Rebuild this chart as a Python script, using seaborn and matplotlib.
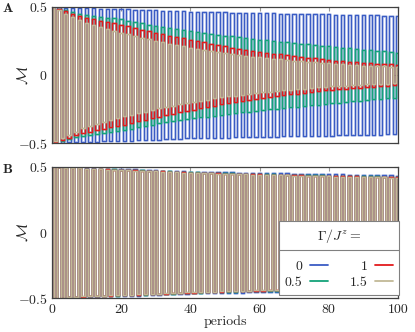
import numpy as np
import pandas as pd
import seaborn as sns
import matplotlib
matplotlib.use('Agg')
import matplotlib.pyplot as plt
import matplotlib.patheffects as pe
from matplotlib.lines import Line2D

# envelope of |M| at these periods
env_periods = [0, 10, 20, 30, 40, 50, 60, 70, 80, 90, 100]
gammas = ['0', '0.5', '1', '1.5']
colors = ['#3a5cc4', '#14a37a', '#e31a1c', '#c2b996']

# panel A
amp_A_0 = [0.5, 0.49, 0.485, 0.475, 0.465, 0.46, 0.455, 0.45, 0.445, 0.44, 0.435]
amp_A_05 = [0.5, 0.44, 0.41, 0.36, 0.32, 0.29, 0.26, 0.235, 0.21, 0.185, 0.165]
amp_A_1 = [0.5, 0.42, 0.37, 0.31, 0.26, 0.21, 0.17, 0.14, 0.11, 0.09, 0.075]
amp_A_15 = [0.5, 0.38, 0.31, 0.25, 0.2, 0.16, 0.13, 0.105, 0.085, 0.07, 0.06]

# panel B
amp_B_0 = [0.5, 0.49, 0.485, 0.475, 0.465, 0.46, 0.455, 0.45, 0.445, 0.44, 0.435]
amp_B_05 = [0.5, 0.488, 0.48, 0.47, 0.46, 0.452, 0.446, 0.44, 0.435, 0.43, 0.425]
amp_B_1 = [0.5, 0.487, 0.478, 0.468, 0.458, 0.45, 0.443, 0.437, 0.432, 0.427, 0.422]
amp_B_15 = [0.5, 0.486, 0.476, 0.466, 0.456, 0.448, 0.44, 0.434, 0.428, 0.423, 0.418]

periods = np.arange(0, 101)


def build(amps):
    frames = []
    for g, a in zip(gammas, amps):
        env = np.interp(periods, env_periods, a)
        # magnetisation flips sign every period
        m = env * (-1.0) ** periods
        frames.append(pd.DataFrame({'period': periods, 'M': m, 'gamma': g}))
    return pd.concat(frames, ignore_index=True)


df_A = build([amp_A_0, amp_A_05, amp_A_1, amp_A_15])
df_B = build([amp_B_0, amp_B_05, amp_B_1, amp_B_15])

sns.set_style('white')
plt.rcParams['font.family'] = ['cmr10', 'DejaVu Serif']
plt.rcParams['mathtext.fontset'] = 'cm'
plt.rcParams['axes.formatter.use_mathtext'] = True
plt.rcParams['font.size'] = 10

fig = plt.figure(figsize=(4.15, 3.32), dpi=100)
ax_A = fig.add_axes([0.125, 0.569, 0.834, 0.41])
ax_B = fig.add_axes([0.125, 0.102, 0.834, 0.395])

halo = [pe.Stroke(linewidth=2.0, alpha=0.3), pe.Normal()]

for ax, df, show_leg in [(ax_A, df_A, False), (ax_B, df_B, True)]:
    sns.lineplot(data=df, x='period', y='M', hue='gamma', hue_order=gammas,
                 palette=colors, estimator=None, sort=True, drawstyle='steps-mid',
                 lw=0.9, path_effects=halo, legend=show_leg, ax=ax)
    ax.set_xlim(0, 100)
    ax.set_ylim(-0.5, 0.5)
    ax.set_yticks([-0.5, 0, 0.5])
    ax.set_yticklabels(['$-0.5$', '$0$', '$0.5$'])
    ax.set_xticks([0, 20, 40, 60, 80, 100])
    ax.tick_params(direction='in', length=3, color='#999999', top=True, right=True,
                   labelsize=10, pad=3)
    ax.tick_params(axis='x', pad=4)
    for s in ax.spines.values():
        s.set_color('#404040')
        s.set_linewidth(0.9)
    ax.set_ylabel(r'$\mathcal{M}$', fontsize=11)
    ax.yaxis.set_label_coords(-0.062, 0.5)
    ax.set_xlabel('')

ax_A.set_xticklabels([])
ax_B.set_xticklabels(['0', '20', '40', '60', '80', '100'])
ax_B.set_xlabel('periods', fontsize=10, labelpad=0)

handles, labels = ax_B.get_legend_handles_labels()
leg = ax_B.legend(handles, labels, ncol=2, loc='lower right', bbox_to_anchor=(1.003, 0.025),
                  title=r'$\Gamma/J^z =$',
                  markerfirst=False, frameon=True, fancybox=False, framealpha=1,
                  edgecolor='#808080', fontsize=10, title_fontsize=10,
                  handlelength=1.3, handletextpad=0.5, columnspacing=1.6,
                  labelspacing=0.2, borderpad=0.45, borderaxespad=0)
leg.get_frame().set_linewidth(0.8)
leg._legend_box.sep = 11
for h in leg.legend_handles:
    h.set_path_effects([])
    h.set_linewidth(1.3)

fig.text(0.006, 0.99, 'A', family='cmb10', fontsize=10, va='top')
fig.text(0.006, 0.507, 'B', family='cmb10', fontsize=10, va='top')

# separator under the legend title
fig.canvas.draw()
tb = leg.get_title().get_window_extent()
fb = leg.get_frame().get_window_extent()
inv = fig.transFigure.inverted()
y_sep = tb.y0 - 5
(x0, y0), (x1, _) = inv.transform([(fb.x0, y_sep), (fb.x1, y_sep)])
fig.add_artist(Line2D([x0, x1], [y0, y0], color='#808080', lw=0.8, zorder=10))

fig.savefig('out.png', dpi=100)
